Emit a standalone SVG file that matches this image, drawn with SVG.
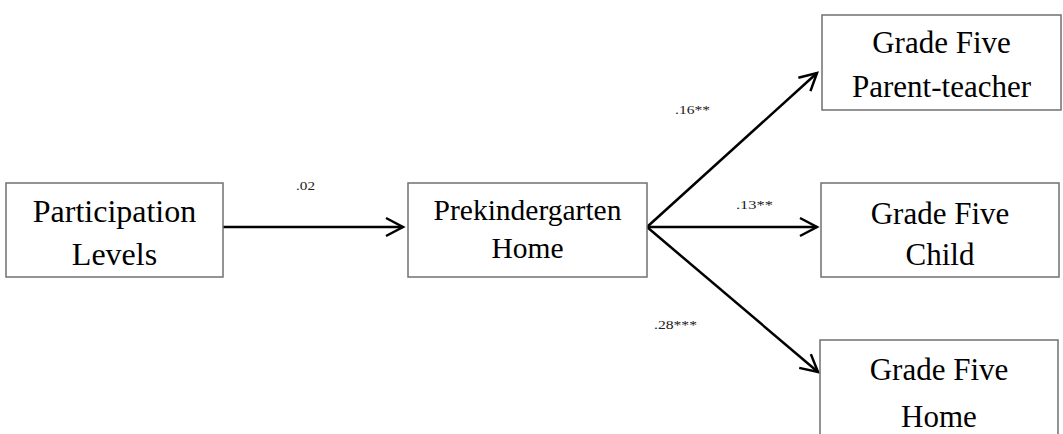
<svg xmlns="http://www.w3.org/2000/svg" width="1063" height="434" viewBox="0 0 1063 434">
  <style>
    .box { fill: #ffffff; stroke: #707070; stroke-width: 1.5; }
    .lbl { font-family: "Liberation Serif", "Times New Roman", serif; font-size: 31px; fill: #000; text-anchor: middle; }
    .coef { font-family: "Liberation Serif", "Times New Roman", serif; font-size: 12.5px; fill: #222; }
    .edge { fill: none; stroke: #000; stroke-width: 2.5; marker-end: url(#open); }
  </style>
  <defs>
    <marker id="open" markerUnits="userSpaceOnUse" markerWidth="40" markerHeight="40" refX="0" refY="0" viewBox="-20 -20 40 40" orient="auto" overflow="visible">
      <path d="M-17,-9 L0,0 L-17,9" fill="none" stroke="#000" stroke-width="2.5" stroke-linejoin="miter"/>
    </marker>
    <clipPath id="clip02">
      <rect x="280" y="181" width="60" height="20"/>
    </clipPath>
  </defs>

  <rect width="1063" height="434" fill="#ffffff"/>

  <g id="connectors">
    <line class="edge" x1="223" y1="227" x2="403" y2="227"/>
    <line class="edge" x1="647" y1="227" x2="817" y2="73"/>
    <line class="edge" x1="647" y1="227" x2="817" y2="227"/>
    <line class="edge" x1="647" y1="227" x2="818" y2="372"/>
    <text class="coef" x="296" y="190" textLength="19" lengthAdjust="spacingAndGlyphs" clip-path="url(#clip02)">.02</text>
    <text class="coef" x="675" y="114" textLength="35" lengthAdjust="spacingAndGlyphs">.16**</text>
    <text class="coef" x="736" y="209" textLength="37" lengthAdjust="spacingAndGlyphs">.13**</text>
    <text class="coef" x="654" y="329" textLength="43" lengthAdjust="spacingAndGlyphs">.28***</text>
  </g>

  <g id="participation">
    <rect class="box" x="6" y="183" width="217" height="94"/>
    <text class="lbl" x="114.5" y="222" style="font-size:32px">Participation</text>
    <text class="lbl" x="114.5" y="265" style="font-size:32px">Levels</text>
  </g>

  <g id="prek-home">
    <rect class="box" x="408" y="183" width="239" height="94"/>
    <text class="lbl" x="527.5" y="220" style="font-size:29.5px">Prekindergarten</text>
    <text class="lbl" x="527.5" y="258" style="font-size:29.5px">Home</text>
  </g>

  <g id="g5-parent-teacher">
    <rect class="box" x="822" y="15" width="239" height="95"/>
    <text class="lbl" x="941.5" y="53">Grade Five</text>
    <text class="lbl" x="941.5" y="97">Parent-teacher</text>
  </g>

  <g id="g5-child">
    <rect class="box" x="821" y="183" width="238" height="94"/>
    <text class="lbl" x="940" y="224">Grade Five</text>
    <text class="lbl" x="940" y="265">Child</text>
  </g>

  <g id="g5-home">
    <rect class="box" x="820" y="340" width="238" height="110"/>
    <text class="lbl" x="939" y="380">Grade Five</text>
    <text class="lbl" x="939" y="427">Home</text>
  </g>
</svg>
